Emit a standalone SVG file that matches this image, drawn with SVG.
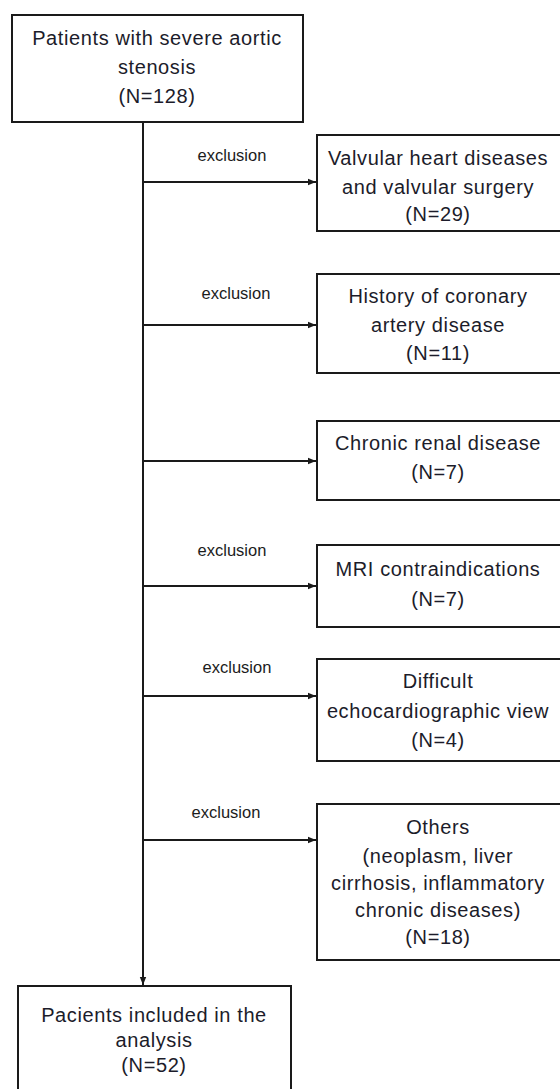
<svg xmlns="http://www.w3.org/2000/svg" width="560" height="1089" viewBox="0 0 560 1089">
<style>
.box{fill:#fff;stroke:#1a1a1a;stroke-width:2}
.t{font-family:"Liberation Sans",Arial,sans-serif;font-size:20px;letter-spacing:0.6px;fill:#1c1c2a;text-anchor:middle}
.ex{font-family:"Liberation Sans",Arial,sans-serif;font-size:16.5px;fill:#1c1c1c;text-anchor:middle}
.c{stroke:#1a1a1a;stroke-width:2;fill:none}
</style>
<defs>
<marker id="arr" viewBox="0 0 10 10" refX="10" refY="5" markerWidth="8" markerHeight="8" orient="auto" markerUnits="userSpaceOnUse">
<path d="M0,1 L10,5 L0,9 Z" fill="#1a1a1a"/>
</marker>
</defs>
<rect width="560" height="1089" fill="#fff"/>
<g id="connectors">
<line class="c" x1="143" y1="122" x2="143" y2="985" marker-end="url(#arr)"/>
<line class="c" x1="143" y1="182" x2="316" y2="182" marker-end="url(#arr)"/>
<line class="c" x1="143" y1="325" x2="316" y2="325" marker-end="url(#arr)"/>
<line class="c" x1="143" y1="461" x2="316" y2="461" marker-end="url(#arr)"/>
<line class="c" x1="143" y1="586" x2="316" y2="586" marker-end="url(#arr)"/>
<line class="c" x1="143" y1="696" x2="316" y2="696" marker-end="url(#arr)"/>
<line class="c" x1="143" y1="840" x2="316" y2="840" marker-end="url(#arr)"/>
<text class="ex" x="232" y="161">exclusion</text>
<text class="ex" x="236" y="299">exclusion</text>
<text class="ex" x="232" y="556">exclusion</text>
<text class="ex" x="237" y="673">exclusion</text>
<text class="ex" x="226" y="818">exclusion</text>
</g>
<g id="start">
<rect class="box" x="12" y="15" width="291" height="107"/>
<text class="t" x="157" y="45">Patients with severe aortic</text>
<text class="t" x="157" y="74">stenosis</text>
<text class="t" x="157" y="103">(N=128)</text>
</g>
<g id="valvular">
<rect class="box" x="317" y="135" width="250" height="96"/>
<text class="t" x="438" y="165">Valvular heart diseases</text>
<text class="t" x="438" y="194">and valvular surgery</text>
<text class="t" x="438" y="221">(N=29)</text>
</g>
<g id="coronary">
<rect class="box" x="317" y="274" width="250" height="99"/>
<text class="t" x="438" y="303">History of coronary</text>
<text class="t" x="438" y="332">artery disease</text>
<text class="t" x="438" y="360">(N=11)</text>
</g>
<g id="renal">
<rect class="box" x="317" y="421" width="250" height="79"/>
<text class="t" x="438" y="450">Chronic renal disease</text>
<text class="t" x="438" y="479">(N=7)</text>
</g>
<g id="mri">
<rect class="box" x="317" y="545" width="250" height="82"/>
<text class="t" x="438" y="576">MRI contraindications</text>
<text class="t" x="438" y="606">(N=7)</text>
</g>
<g id="echo">
<rect class="box" x="317" y="659" width="250" height="102"/>
<text class="t" x="438" y="688">Difficult</text>
<text class="t" x="438" y="718">echocardiographic view</text>
<text class="t" x="438" y="747">(N=4)</text>
</g>
<g id="others">
<rect class="box" x="317" y="804" width="250" height="156"/>
<text class="t" x="438" y="834">Others</text>
<text class="t" x="438" y="863">(neoplasm, liver</text>
<text class="t" x="438" y="890">cirrhosis, inflammatory</text>
<text class="t" x="438" y="917">chronic diseases)</text>
<text class="t" x="438" y="944">(N=18)</text>
</g>
<g id="included">
<rect class="box" x="18" y="986" width="273" height="120"/>
<text class="t" x="154" y="1022">Pacients included in the</text>
<text class="t" x="154" y="1047">analysis</text>
<text class="t" x="154" y="1072">(N=52)</text>
</g>
</svg>
